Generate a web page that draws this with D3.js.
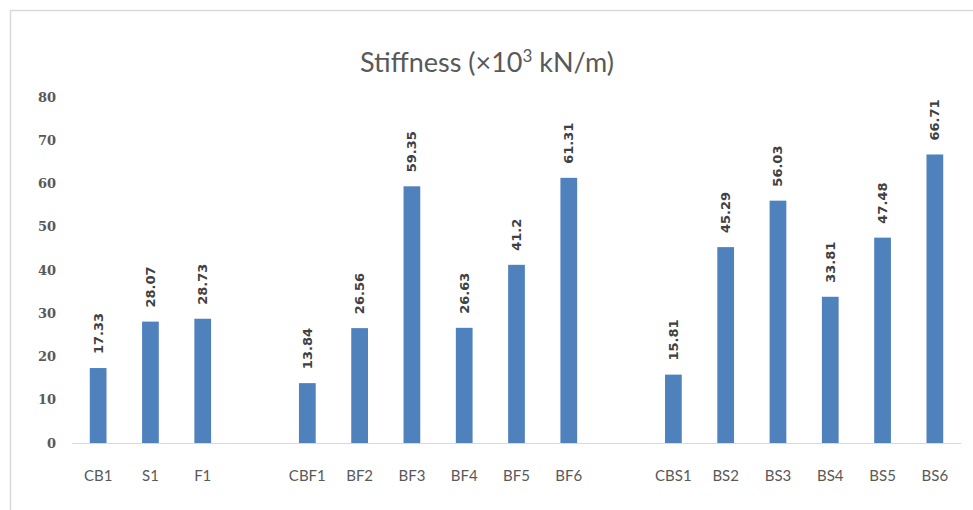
<!DOCTYPE html>
<html>
<head>
<meta charset="utf-8">
<script src="https://cdn.jsdelivr.net/npm/d3@7/dist/d3.min.js"></script>
<style>
  html, body { margin: 0; padding: 0; background: #fff; }
  svg { display: block; }
</style>
</head>
<body>
<svg id="chart" width="973" height="510"></svg>
<script>
// Specimen names; empty strings are spacer slots between the three groups
const categories = ["CB1", "S1", "F1", "", "CBF1", "BF2", "BF3", "BF4", "BF5", "BF6", "", "CBS1", "BS2", "BS3", "BS4", "BS5", "BS6"];
// Stiffness values (×10³ kN/m); null for spacer slots
const stiffness = [17.33, 28.07, 28.73, null, 13.84, 26.56, 59.35, 26.63, 41.2, 61.31, null, 15.81, 45.29, 56.03, 33.81, 47.48, 66.71];
const yTicks = [0, 10, 20, 30, 40, 50, 60, 70, 80];
const titleText = "Stiffness (×10";
const titleSup = "3";
const titleTail = " kN/m)";

const svg = d3.select("#chart");
const W = 973, H = 510;
const margin = { left: 72, right: 12, top: 97, bottom: 67 };

// Chart frame
svg.append("rect")
  .attr("x", 10.5).attr("y", 10.5)
  .attr("width", W + 20).attr("height", H + 20)
  .attr("fill", "#fff")
  .attr("stroke", "#d9d9d9").attr("stroke-width", 1.5);

const x = d3.scaleBand()
  .domain(d3.range(categories.length))
  .range([margin.left, W - margin.right])
  .paddingInner(0.68).paddingOuter(0.34);

const y = d3.scaleLinear()
  .domain([0, 80])
  .range([H - margin.bottom, margin.top]);

// Title
const title = svg.append("text")
  .attr("x", 487).attr("y", 72)
  .attr("text-anchor", "middle")
  .attr("font-family", "Lato, 'Open Sans', sans-serif")
  .attr("font-size", 27)
  .attr("fill", "#595959");
title.append("tspan").text(titleText);
title.append("tspan").attr("dy", -10).attr("font-size", 17).text(titleSup);
title.append("tspan").attr("dy", 10).text(titleTail);

// Y axis labels (no axis line)
const yAxis = d3.axisLeft(y).tickValues(yTicks).tickSize(0).tickPadding(0);
const yg = svg.append("g")
  .attr("transform", `translate(56,0)`)
  .call(yAxis);
yg.select(".domain").remove();
yg.selectAll("text")
  .attr("font-family", "'DejaVu Serif', serif")
  .attr("font-weight", "bold")
  .attr("font-size", 13)
  .attr("fill", "#595959");

// Baseline
svg.append("line")
  .attr("x1", margin.left).attr("x2", W - margin.right)
  .attr("y1", y(0) + 0.5).attr("y2", y(0) + 0.5)
  .attr("stroke", "#d9d9d9").attr("stroke-width", 1);

// X axis category labels
const xAxis = d3.axisBottom(x).tickSize(0).tickPadding(0)
  .tickFormat(i => categories[i]);
const xg = svg.append("g")
  .attr("transform", `translate(0,${y(0) + 27})`)
  .call(xAxis);
xg.select(".domain").remove();
xg.selectAll("text")
  .attr("font-family", "Lato, 'Open Sans', sans-serif")
  .attr("font-size", 15)
  .attr("fill", "#595959");

const data = categories.map((c, i) => ({ i, c, v: stiffness[i] })).filter(d => d.v != null);

// Bars
svg.append("g").selectAll("rect")
  .data(data)
  .join("rect")
  .attr("x", d => x(d.i))
  .attr("width", x.bandwidth())
  .attr("y", d => y(d.v))
  .attr("height", d => y(0) - y(d.v))
  .attr("fill", "#4f81bd");

// Rotated value labels
svg.append("g").selectAll("text")
  .data(data)
  .join("text")
  .attr("transform", d => `translate(${x(d.i) + x.bandwidth() / 2 + 4.5},${y(d.v) - 14}) rotate(-90)`)
  .attr("text-anchor", "start")
  .attr("font-family", "'DejaVu Sans', 'Liberation Sans', sans-serif")
  .attr("font-weight", "bold")
  .attr("font-size", 13)
  .attr("fill", "#404040")
  .text(d => d.v);
</script>
</body>
</html>
